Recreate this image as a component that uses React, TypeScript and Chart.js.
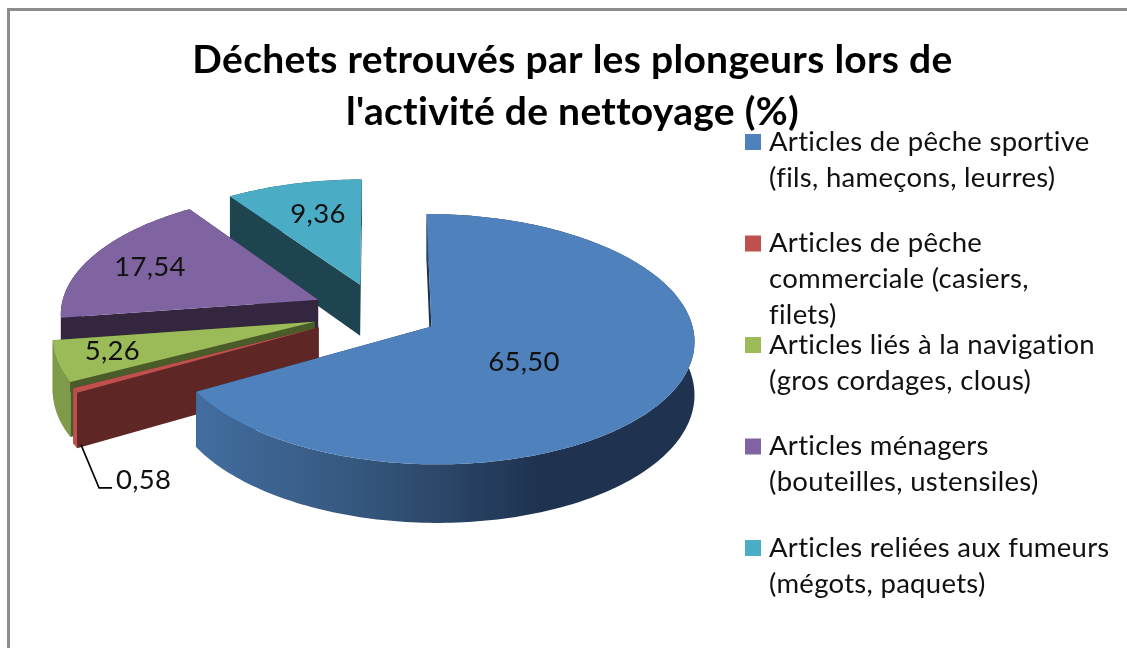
import React, { useEffect, useRef } from "react";
import { Chart, registerables } from "chart.js";

Chart.register(...registerables);

const titleLines = ["Déchets retrouvés par les plongeurs lors de", "l'activité de nettoyage (%)"];
const categories = [
  ["Articles de pêche sportive", "(fils, hameçons, leurres)"],
  ["Articles de pêche", "commerciale (casiers,", "filets)"],
  ["Articles liés à la navigation", "(gros cordages, clous)"],
  ["Articles ménagers", "(bouteilles, ustensiles)"],
  ["Articles reliées aux fumeurs", "(mégots, paquets)"],
];
const values = [65.5, 0.58, 5.26, 17.54, 9.36];
const explode = [61, 67, 66, 66, 62];
const topColors = ["#4F81BD", "#C0504D", "#9BBB59", "#8064A2", "#4BACC6"];
const cutColors = ["#1f3350", "#5e2624", "#4a5c2a", "#34263f", "#1e4450"];
const rimColors = ["#3f6a9b", "#c0504d", "#7f9a48", "#34263f", "#1e4450"];
// label place inside its slice: radius fraction and angle shift from the slice's middle
const labelRadius = [0.44, 0, 0.79, 0.74, 0.675];
const labelTurn = [9.6, 0, 1, -1, 1.5];

const FONT = "Lato, 'Open Sans', sans-serif";
const CX = 378, CY = 312, R = 258, T = 121, P = 0.1, DEPTH = 52;

function project(U: number, V: number, down = false) {
  const s = 1 / (1 - P * V);
  return {
    x: CX + U * R * s,
    y: CY + V * T * s + (down ? DEPTH * s : 0),
  };
}

const pie3d = {
  id: "pie3d",
  beforeDraw(chart: any) {
    const ctx: any = chart.ctx;
    ctx.letterSpacing = "0.3px";
  },
  beforeDatasetsDraw(chart: any) {
    const ctx: any = chart.ctx;
    const meta = chart.getDatasetMeta(0);
    const arcs = meta.data.map((el: any, i: number) => {
      const a0 = el.startAngle, a1 = el.endAngle, mid = (a0 + a1) / 2;
      const e = el.options.offset / R;
      return { i, a0, a1, mid, ou: Math.cos(mid) * e, ov: Math.sin(mid) * e };
    });
    const blueGrad = ctx.createLinearGradient(198, 0, 540, 0);
    blueGrad.addColorStop(0, "#426d9f");
    blueGrad.addColorStop(0.45, "#36587f");
    blueGrad.addColorStop(1, "#1f3350");

    const poly = (points: { x: number; y: number }[], fill: any) => {
      ctx.beginPath();
      points.forEach((p, k) => (k ? ctx.lineTo(p.x, p.y) : ctx.moveTo(p.x, p.y)));
      ctx.closePath();
      ctx.fillStyle = fill;
      ctx.fill();
    };

    // back to front: last slices first
    [...arcs].reverse().forEach((s: any) => {
      const pts: { U: number; V: number }[] = [];
      const n = Math.max(2, Math.ceil((s.a1 - s.a0) / 0.02));
      for (let k = 0; k <= n; k++) {
        const a = s.a0 + ((s.a1 - s.a0) * k) / n;
        pts.push({ U: Math.cos(a) + s.ou, V: Math.sin(a) + s.ov });
      }
      const cut = (p: { U: number; V: number }) =>
        poly(
          [project(s.ou, s.ov), project(p.U, p.V), project(p.U, p.V, true), project(s.ou, s.ov, true)],
          cutColors[s.i]
        );
      const rim = () =>
        poly(
          [
            ...pts.map((p) => project(p.U, p.V)),
            ...[...pts].reverse().map((p) => project(p.U, p.V, true)),
          ],
          s.i === 0 ? blueGrad : rimColors[s.i]
        );
      const [far, near] = [pts[0], pts[n]].sort((a, b) => a.V - b.V);
      cut(far);
      if (s.a1 - s.a0 > Math.PI) {
        cut(near);
        rim();
      } else {
        rim();
        cut(near);
      }
      poly([project(s.ou, s.ov), ...pts.map((p) => project(p.U, p.V))], topColors[s.i]);
    });

    // value labels
    ctx.fillStyle = "#111";
    ctx.font = `27.5px ${FONT}`;
    ctx.textBaseline = "middle";
    arcs.forEach((s: any) => {
      const text = values[s.i].toFixed(2).replace(".", ",");
      if (labelRadius[s.i] > 0) {
        const a = s.mid + (labelTurn[s.i] * Math.PI) / 180;
        const p = project(s.ou + Math.cos(a) * labelRadius[s.i], s.ov + Math.sin(a) * labelRadius[s.i]);
        ctx.textAlign = "center";
        ctx.fillText(text, p.x, p.y);
      } else {
        const o = project(Math.cos(s.mid) + s.ou, Math.sin(s.mid) + s.ov, true);
        ctx.beginPath();
        ctx.moveTo(o.x + 6, o.y - 1);
        ctx.lineTo(o.x + 24, o.y + 42);
        ctx.lineTo(o.x + 37, o.y + 42);
        ctx.strokeStyle = "#000";
        ctx.lineWidth = 1.6;
        ctx.stroke();
        ctx.textAlign = "left";
        ctx.fillText(text, o.x + 41, o.y + 34);
      }
    });
    return false;
  },
};

const sideLegend = {
  id: "sideLegend",
  afterDraw(chart: any) {
    const ctx: CanvasRenderingContext2D = chart.ctx;
    ctx.save();
    ctx.font = `27.5px ${FONT}`;
    ctx.textAlign = "left";
    ctx.textBaseline = "middle";
    categories.forEach((lines, i) => {
      const y = 142 + i * 101.5;
      ctx.fillStyle = topColors[i];
      ctx.fillRect(745, y - 8, 16, 16);
      ctx.fillStyle = "#111";
      lines.forEach((t, j) => ctx.fillText(t, 769, y + j * 36));
    });
    ctx.restore();
  },
};

export default function App() {
  const ref = useRef<HTMLCanvasElement>(null);
  useEffect(() => {
    const chart = new Chart(ref.current as HTMLCanvasElement, {
      type: "pie",
      data: {
        labels: categories.map((c) => c.join(" ")),
        datasets: [{ data: values, backgroundColor: topColors, offset: explode, borderWidth: 0 }],
      },
      options: {
        animation: false,
        responsive: false,
        layout: { padding: { left: 18, top: 34 } },
        plugins: {
          legend: { display: false },
          tooltip: { enabled: false },
          title: {
            display: true,
            text: titleLines,
            color: "#000",
            font: { family: FONT, size: 39, weight: "bold", lineHeight: 1.335 },
            padding: 0,
          },
        },
      } as any,
      plugins: [pie3d, sideLegend],
    });
    return () => chart.destroy();
  }, []);
  return (
    <div style={{ position: "absolute", left: 0, top: 0, width: 1127, height: 648, overflow: "hidden", background: "#fff" }}>
      <canvas ref={ref} width={1127} height={648} style={{ display: "block", filter: "blur(0.4px)" }} />
      <div style={{ position: "absolute", left: 7, top: 8, width: 1200, height: 800, border: "3px solid #8c8c8c" }} />
    </div>
  );
}
